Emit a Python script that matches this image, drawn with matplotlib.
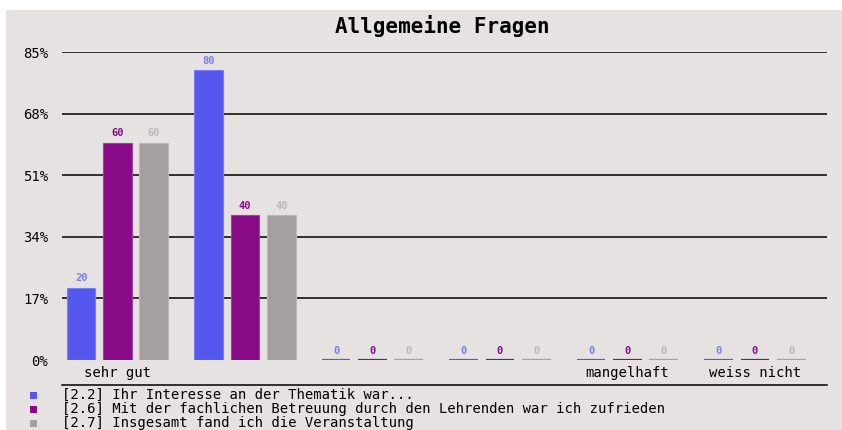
import matplotlib.pyplot as plt
import numpy as np
from matplotlib.lines import Line2D
from matplotlib.patches import Rectangle

categories = ['sehr gut', '', '', '', 'mangelhaft', 'weiss nicht']
series_names = ['[2.2] Ihr Interesse an der Thematik war...',
                '[2.6] Mit der fachlichen Betreuung durch den Lehrenden war ich zufrieden',
                '[2.7] Insgesamt fand ich die Veranstaltung']
interesse = [20, 80, 0, 0, 0, 0]
betreuung = [60, 40, 0, 0, 0, 0]
insgesamt = [60, 40, 0, 0, 0, 0]
yticks = [0, 17, 34, 51, 68, 85]
title = 'Allgemeine Fragen'

colors = ['#5458ee', '#880a86', '#a5a09f']
edges = ['#7a7ef4', '#a040a0', '#bdb9b8']
bg = '#e6e2e2'
mono = 'DejaVu Sans Mono'

W, H = 842, 430
fig = plt.figure(figsize=(W / 100, H / 100), dpi=100, facecolor='white')
# grey panel with a thin white margin on top and left
fig.add_artist(Rectangle((6 / W, 0), 1, 1 - 10 / H, transform=fig.transFigure,
                         facecolor=bg, edgecolor='none', zorder=-10))

ax = fig.add_axes([62 / W, (H - 360) / H, 765 / W, 308 / H])
ax.patch.set_visible(False)
for s in ax.spines.values():
    s.set_visible(False)

x = np.arange(len(categories))
offsets = [0.15, 0.435, 0.72]
width = 0.225
for vals, off, c, ec in zip([interesse, betreuung, insgesamt], offsets, colors, edges):
    # zero values show up as a thin coloured line, like in the original tool
    ecs = [c if v == 0 else ec for v in vals]
    lws = [1.6 if v == 0 else 0.8 for v in vals]
    bars = ax.bar(x + off, vals, width, color=c, edgecolor=ecs, linewidth=lws, zorder=3)
    for b, v in zip(bars, vals):
        ax.annotate(str(v), (b.get_x() + b.get_width() / 2, v), xytext=(0, 3),
                    textcoords='offset points', ha='center', va='bottom',
                    fontsize=7.5, family=mono, fontweight='bold',
                    color=ec if c != colors[1] else c)

ax.set_xlim(0, len(categories))
ax.set_ylim(0, 85)
ax.set_yticks(yticks)
ax.set_yticklabels([f'{t}%' for t in yticks], family=mono, fontsize=10)
ax.tick_params(axis='y', length=0, pad=10)
ax.set_xticks([])
for t in yticks[1:]:
    ax.axhline(t, color='black', linewidth=1.1, zorder=1)

for i, cat in enumerate(categories):
    ax.text(i + 0.435, -3.6, cat, ha='center', va='center', family=mono, fontsize=10)

fig.text(442 / W, 1 - 26 / H, title, ha='center', va='center', family=mono,
         fontsize=15, fontweight='bold')

# separator line above legend
fig.add_artist(Line2D([62 / W, 827 / W], [1 - 385 / H, 1 - 385 / H],
                      transform=fig.transFigure, color='black', linewidth=1.1))

for k, (name, c) in enumerate(zip(series_names, colors)):
    yc = 395 + 14 * k
    fig.add_artist(Rectangle((30 / W, 1 - (yc + 4) / H), 7 / W, 7 / H,
                             transform=fig.transFigure, facecolor=c, edgecolor='none'))
    fig.text(62 / W, 1 - yc / H, name, ha='left', va='center', family=mono, fontsize=10)

fig.savefig('out.png', dpi=100, facecolor='white')
